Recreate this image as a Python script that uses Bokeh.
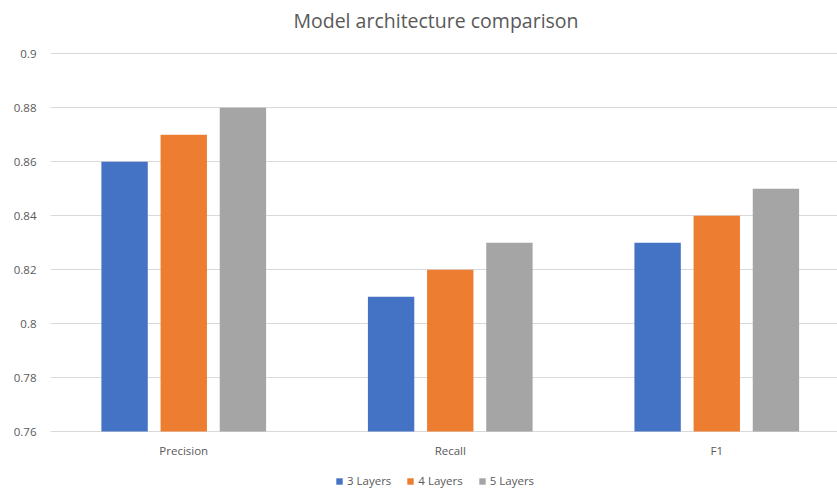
from bokeh.plotting import figure
from bokeh.models import (Range1d, FixedTicker, CustomJSTickFormatter, Legend,
                          LegendItem, ColumnDataSource, Label)
from bokeh.core.properties import value
from bokeh.embed import file_html
from bokeh.resources import INLINE

categories = ["Precision", "Recall", "F1"]
series_names = ["3 Layers", "4 Layers", "5 Layers"]
layers3 = [0.86, 0.81, 0.83]
layers4 = [0.87, 0.82, 0.84]
layers5 = [0.88, 0.83, 0.85]
y_ticks = [0.76, 0.78, 0.80, 0.82, 0.84, 0.86, 0.88, 0.90]
title_text = "Model architecture comparison"

colors = ["#4472C4", "#ED7D31", "#A5A5A5"]
FONT = "Open Sans"
TXT = "#595959"
GRID = "#D9D9D9"

y_start, y_end = y_ticks[0], y_ticks[-1]
# frame spans the full height; extra room below/above the value axis
y_lo, y_hi = y_start - 0.0211, y_end + 0.0198

p = figure(width=837, height=488, output_backend="svg", toolbar_location=None,
           x_range=Range1d(0, 2.953), y_range=Range1d(y_lo, y_hi),
           x_axis_location=None,
           min_border_left=50, min_border_right=0, min_border_top=0,
           min_border_bottom=0)
p.title.text = ""

centers = [i + 0.5 for i in range(len(categories))]
offsets = [-0.222, 0.0, 0.222]
renderers = []
for vals, off, col in zip([layers3, layers4, layers5], offsets, colors):
    src = ColumnDataSource(dict(x=[c + off for c in centers], top=vals))
    r = p.vbar(x="x", top="top", bottom=y_start, width=0.174, source=src,
               fill_color=col, line_color=None)
    renderers.append(r)

# category labels under the bars
lab_src = ColumnDataSource(dict(x=centers, y=[y_start - 0.0071] * len(categories),
                                t=categories))
p.text(x="x", y="y", text="t", source=lab_src, text_align="center",
       text_baseline="middle", text_font=value(FONT), text_font_size="11.5px",
       text_color=TXT)

p.outline_line_color = None
p.xgrid.visible = False
p.ygrid.ticker = FixedTicker(ticks=y_ticks)
p.ygrid.grid_line_color = GRID
p.ygrid.grid_line_width = 1

p.yaxis.ticker = FixedTicker(ticks=y_ticks)
p.yaxis.formatter = CustomJSTickFormatter(
    code="return tick.toFixed(2).replace(/0+$/, '');")
p.yaxis.axis_line_color = None
p.yaxis.major_tick_line_color = None
p.yaxis.minor_tick_line_color = None
p.yaxis.major_tick_out = 0
p.yaxis.minor_tick_out = 0
p.yaxis.major_label_standoff = 14
p.yaxis.major_label_text_font = FONT
p.yaxis.major_label_text_font_size = "11.5px"
p.yaxis.major_label_text_color = TXT

title = Label(x=385.5, y=468, x_units="screen", y_units="screen",
              text=title_text, text_align="center", text_baseline="alphabetic",
              text_font=FONT, text_font_size="19.5px", text_color=TXT)
p.add_layout(title)

legend = Legend(
    items=[LegendItem(label=n, renderers=[r]) for n, r in zip(series_names, renderers)],
    orientation="horizontal", location=(285, 0),
    glyph_width=8, glyph_height=8, label_standoff=4, spacing=15,
    padding=0, margin=0, border_line_color=None, background_fill_alpha=0,
    label_text_font=FONT, label_text_font_size="11.5px", label_text_color=TXT,
    label_height=12)
p.add_layout(legend)

open("out.html", "w").write(file_html(p, INLINE))
